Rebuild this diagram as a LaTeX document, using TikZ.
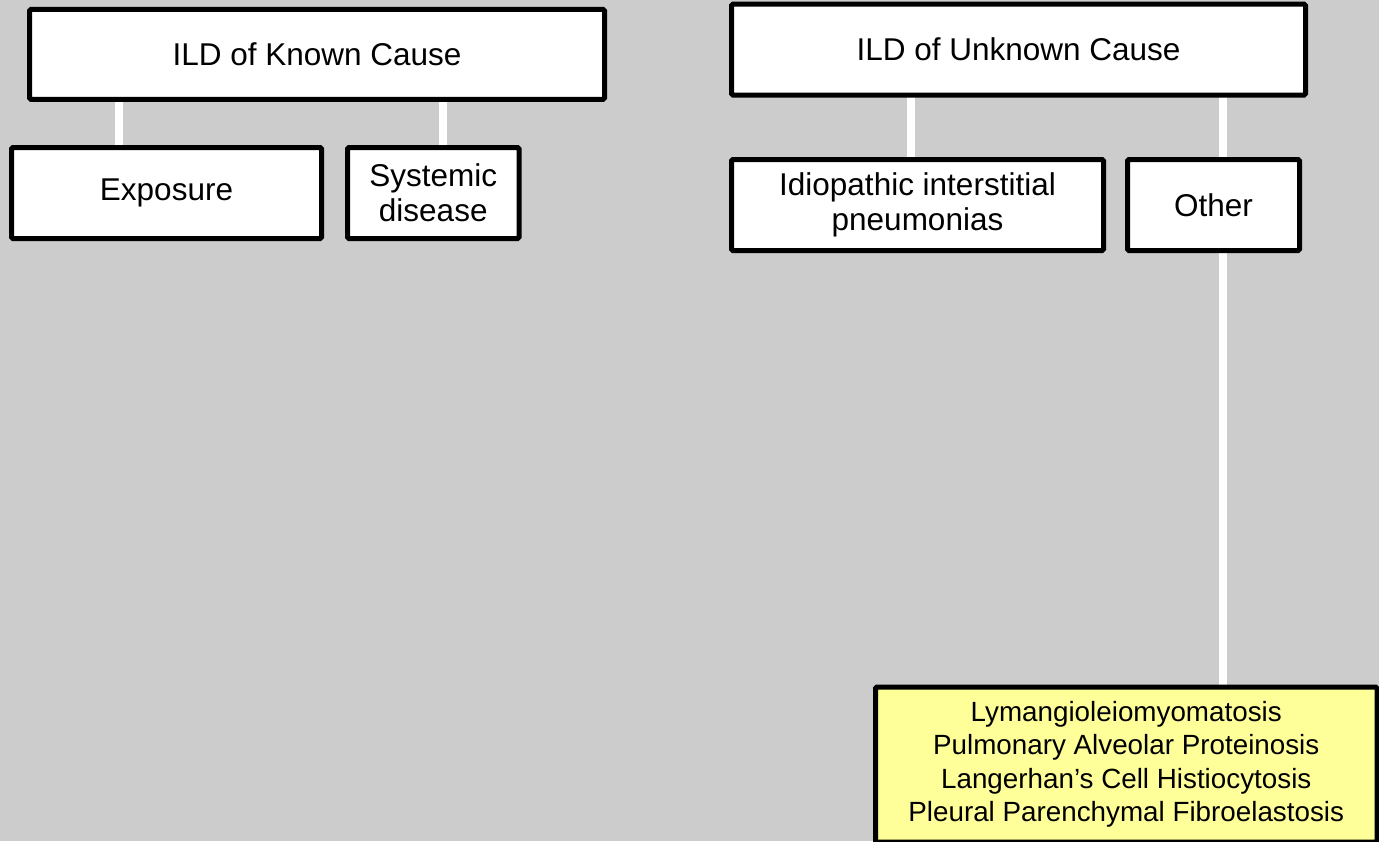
\documentclass[tikz,border=0pt]{standalone}
\usepackage{fontspec}
\setmainfont{Liberation Sans}
\usetikzlibrary{backgrounds}
\definecolor{bggray}{RGB}{204,204,204}
\definecolor{paleyellow}{RGB}{255,255,153}
\begin{document}
\begin{tikzpicture}[x=1pt,y=-1pt,
  box/.style={draw=black, fill=white, line width=5pt, outer sep=0pt, inner sep=0pt,
    align=center, font=\fontsize{31.5}{35}\selectfont, rounded corners=1.5pt},
  notebox/.style={box, fill=paleyellow, font=\fontsize{27.8}{33.5}\selectfont},
  conn/.style={draw=white, line width=8pt}]
\useasboundingbox (0,0) rectangle (1379,841);
\node[box, minimum width=575pt, minimum height=90pt] (known) at (317,54.3) {ILD of Known Cause};
\node[box, minimum width=310pt, minimum height=91pt] (exposure) at (166.5,193) {Exposure};
\node[box, minimum width=171.5pt, minimum height=91pt] (systemic) at (433.25,193) {Systemic\\disease};
\node[box, minimum width=574pt, minimum height=91pt] (unknown) at (1018.5,49.6) {ILD of Unknown Cause};
\node[box, minimum width=372pt, minimum height=91pt] (iip) at (917.5,205) {Idiopathic interstitial\\pneumonias};
\node[box, minimum width=172pt, minimum height=91pt] (other) at (1213.5,205) {Other};
\node[notebox, minimum width=501.5pt, minimum height=155pt] (rare) at (1126.25,764.5)
  {Lymangioleiomyomatosis\\Pulmonary Alveolar Proteinosis\\Langerhan’s Cell Histiocytosis\\Pleural Parenchymal Fibroelastosis};
\begin{scope}[on background layer]
\fill[bggray] (0,0) rectangle (1379,841);
\draw[conn] ([xshift=-47.5pt]exposure.north) -- ([xshift=-47.5pt]exposure.north |- known.south);
\draw[conn] ([xshift=9.75pt]systemic.north) -- ([xshift=9.75pt]systemic.north |- known.south);
\draw[conn] ([xshift=-6.5pt]iip.north) -- ([xshift=-6.5pt]iip.north |- unknown.south);
\draw[conn] ([xshift=9.5pt]other.north) -- ([xshift=9.5pt]other.north |- unknown.south);
\draw[conn] ([xshift=9.5pt]other.south) -- ([xshift=9.5pt]other.south |- rare.north);
\end{scope}
\end{tikzpicture}
\end{document}
